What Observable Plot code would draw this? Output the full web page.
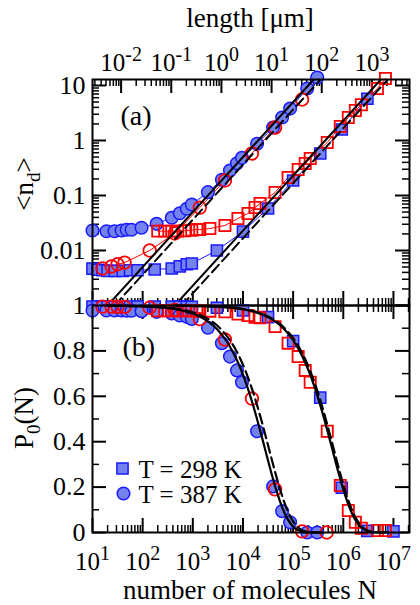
<!DOCTYPE html>
<html><head><meta charset="utf-8">
<script src="https://cdn.jsdelivr.net/npm/d3@7"></script>
<script src="https://cdn.jsdelivr.net/npm/@observablehq/plot@0.6"></script>
<style>
body{margin:0;background:#fff}
#chart{position:relative;width:420px;height:605px;background:#fff}
#chart svg{position:absolute;left:0;overflow:visible}
</style></head>
<body><div id="chart"></div>
<script>
// ---------------- data ----------------
// T = 387 K, filled blue circles
const nCirc387 = [10,19,27.5,38,48,60,95,190,380,550,759,955,2000,3800,5500,7590,9550,19100,39800,60300,87100,191000,302000];
const ndCirc387 = [0.0231,0.0224,0.0224,0.0231,0.0238,0.0238,0.0259,0.0305,0.0393,0.0476,0.0573,0.0685,0.115,0.193,0.285,0.386,0.484,0.871,1.72,2.62,3.80,8.81,14.0];
const p0Circ387 = [0.978,0.978,0.978,0.978,0.977,0.977,0.975,0.972,0.965,0.956,0.950,0.941,0.902,0.834,0.775,0.714,0.662,0.446,0.203,0.094,0.045,0.0,0.0];
// open red circles
const nCircRed = [15.8,24,31.6,43.6,138,436,1380,4370,15100,43600,151000];
const ndCircRed = [0.00471,0.00513,0.00562,0.00603,0.0100,0.0204,0.0603,0.1875,0.581,1.72,5.56];
const nCircRedP0 = [15.8,24,31.6,43.6,138,436,1380,4370,15100,43600,151000,468000];
const p0CircRed = [0.995,0.995,0.994,0.994,0.990,0.980,0.940,0.850,0.590,0.190,0.005,0.0];
// T = 298 K, filled blue squares
const nSq298 = [10,12.6,15.8,20,28,40,56,79,174,380,550,759,955,3020,10000,31600,100000,347000,933000,3020000];
const ndSq298 = [0.00468,0.00447,0.00437,0.00427,0.00427,0.00427,0.00437,0.00437,0.00452,0.00471,0.00513,0.00562,0.00581,0.0100,0.0221,0.0581,0.1875,0.581,1.585,5.75];
const nSq298P0 = [10,12.6,15.8,20,28,40,56,79,174,380,550,759,955,3020,10000,31600,100000,347000,933000,3020000,10000000];
const p0Sq298 = [0.995,0.995,0.995,0.995,0.995,0.995,0.995,0.995,0.995,0.995,0.995,0.994,0.994,0.990,0.978,0.949,0.843,0.594,0.197,0.007,0.005];
// open red squares
const nSqRed = [200,275,380,500,692,955,1200,1380,2190,4370,7940,12600,17400,21900,43600,79400,126000,174000,219000,479000,871000,1260000,1740000,2290000,4790000,6920000];
const ndSqRed = [0.0225,0.0225,0.0225,0.0225,0.0229,0.0234,0.024,0.024,0.0251,0.0285,0.0382,0.0471,0.0605,0.0716,0.1135,0.212,0.297,0.382,0.471,0.92,1.80,2.62,3.51,4.47,8.81,13.4];
const p0SqRed = [0.977,0.977,0.977,0.977,0.977,0.977,0.976,0.976,0.975,0.972,0.962,0.956,0.948,0.946,0.907,0.834,0.775,0.714,0.662,0.446,0.207,0.097,0.045,0.019,0.009,0.009];
// black reference lines, panel (a)
const lineNd = [0.001, 13];
const lineSolid387N = [20, 260000];
const lineDashed387N = [27.5, 357000];
const lineSolid298N = [436, 5670000];
const lineDashed298N = [600, 7800000];
// black curves, panel (b): log10 N and P0
const curveP0 = [0.9993,0.9931,0.9783,0.9572,0.933,0.896,0.8402,0.8032,0.7589,0.7066,0.6458,0.5767,0.5,0.418,0.3334,0.2509,0.1754,0.1118,0.0634,0.031,0.0126,0.0041,0.001,0.0];
const curveSolid387LogN = [1.28,2.28,2.78,3.08,3.28,3.48,3.68,3.78,3.88,3.98,4.08,4.18,4.28,4.38,4.48,4.58,4.68,4.78,4.88,4.98,5.08,5.18,5.28,5.58];
const curveDashed387LogN = [1.36,2.36,2.86,3.16,3.36,3.56,3.76,3.86,3.96,4.06,4.16,4.26,4.36,4.46,4.56,4.66,4.76,4.86,4.96,5.06,5.16,5.26,5.36,5.66];
const curveSolid298LogN = [2.62,3.62,4.12,4.42,4.62,4.82,5.02,5.12,5.22,5.32,5.42,5.52,5.62,5.72,5.82,5.92,6.02,6.12,6.22,6.32,6.42,6.52,6.62,6.92];
const curveDashed298LogN = [2.65,3.65,4.15,4.45,4.65,4.85,5.05,5.15,5.25,5.35,5.45,5.55,5.65,5.75,5.85,5.95,6.05,6.15,6.25,6.35,6.45,6.55,6.65,6.95];
// axes
const xMajorTicks = [1e1,1e2,1e3,1e4,1e5,1e6,1e7];
const xTickLabels = ["10^1","10^2","10^3","10^4","10^5","10^6","10^7"];
const lengthPerMolecule = 2.69e-4; // µm per molecule (top axis)
const lenMajorTicks = [1e-3,1e-2,1e-1,1e0,1e1,1e2,1e3];
const lenLabelValues = [1e-2,1e-1,1e0,1e1,1e2,1e3];
const lenTickLabels = ["10^-2","10^-1","10^0","10^1","10^2","10^3"];
const ndMajorTicks = [0.001,0.01,0.1,1,10];
const ndLabelValues = [10,1,0.1,0.01];
const ndTickLabels = ["10","1","0.1","0.01"];
const p0MajorTicks = [0,0.2,0.4,0.6,0.8,1];
const p0MinorTicks = [0.1,0.3,0.5,0.7,0.9];
const p0TickLabels = ["0","0.2","0.4","0.6","0.8","1"];
const legendLabels = ["T = 298 K","T = 387 K"];

// ---------------- layout & style ----------------
const font = "Liberation Serif";
const blue = "#1a1aff", blueFill = "#7482ee", red = "#ff0000";
const xDomain = [10, 2.09e7];
const mL = 92, mR = 11, W = 420;
const frameW = W - mL - mR;
const hA = 305, mTopA = 79, frameHA = hA - mTopA;
const hB = 300, mBotB = 73, frameHB = hB - mBotB;
const R = 6.3;

const minorsOf = (majors, lo, hi) => majors.flatMap(p => [2,3,4,5,6,7,8,9].map(m => +(m*p).toPrecision(3))).filter(v => v > lo && v < hi);
const xMinor = minorsOf(xMajorTicks, xDomain[0], xDomain[1]);
const lenLo = xDomain[0]*lengthPerMolecule, lenHi = xDomain[1]*lengthPerMolecule;
const lenMajorN = lenMajorTicks.filter(v => v > lenLo && v < lenHi).map(v => v/lengthPerMolecule);
const lenMinorN = minorsOf(lenMajorTicks, lenLo, lenHi).map(v => v/lengthPerMolecule);
const ndDomain = [0.001, 12.85];
const ndMinor = minorsOf(ndMajorTicks, ndDomain[0], ndDomain[1]);

const pts = (xs, ys) => xs.map((x, i) => ({x, y: ys[i]})).filter(d => d.y != null);
const curve = (logs) => logs.map((e, i) => ({x: Math.pow(10, e), y: curveP0[i]}));

function xTicks(where, fh) {
  const key = where === "bottom" ? "insetTop" : "insetBottom";
  return [
    Plot.ruleX(xMajorTicks, {x: d => d, [key]: fh - 14, stroke: "black", strokeWidth: 2}),
    Plot.ruleX(xMinor, {x: d => d, [key]: fh - 7, stroke: "black", strokeWidth: 1.5})
  ];
}
function yTicks(majors, minors) {
  return ["left","right"].flatMap(side => {
    const key = side === "left" ? "insetRight" : "insetLeft";
    return [
      Plot.ruleY(majors, {y: d => d, [key]: frameW - 14, stroke: "black", strokeWidth: 2}),
      Plot.ruleY(minors, {y: d => d, [key]: frameW - 7, stroke: "black", strokeWidth: 1.5})
    ];
  });
}
const blueDot = (data, symbol) => Plot.dot(data, {x: "x", y: "y", r: R, symbol, fill: blueFill, stroke: blue, strokeWidth: 1.5});
const redDot = (data, symbol) => Plot.dot(data, {x: "x", y: "y", r: R, symbol, fill: "none", stroke: red, strokeWidth: 1.8});
const T = (data, opts) => Plot.text(data, {fontFamily: font, fill: "black", ...opts});

// ---------------- panel (a) ----------------
const aCirc387 = pts(nCirc387, ndCirc387), aCircRed = pts(nCircRed, ndCircRed);
const aSq298 = pts(nSq298, ndSq298), aSqRed = pts(nSqRed, ndSqRed);
const pa = Plot.plot({
  width: W, height: hA, marginLeft: mL, marginRight: mR, marginTop: mTopA, marginBottom: 0,
  x: {type: "log", domain: xDomain, axis: null},
  y: {type: "log", domain: ndDomain, axis: null},
  style: {fontFamily: font, fontSize: "26px", background: "transparent", overflow: "visible"},
  marks: [
    ...xTicks("bottom", frameHA),
    Plot.ruleX(lenMajorN, {x: d => d, insetBottom: frameHA - 14, stroke: "black", strokeWidth: 2}),
    Plot.ruleX(lenMinorN, {x: d => d, insetBottom: frameHA - 7, stroke: "black", strokeWidth: 1.5}),
    ...yTicks(ndMajorTicks, ndMinor),
    Plot.line(aSq298, {x: "x", y: "y", stroke: blue, strokeWidth: 1}),
    Plot.line(aCirc387, {x: "x", y: "y", stroke: blue, strokeWidth: 1}),
    Plot.line(aSqRed, {x: "x", y: "y", stroke: red, strokeWidth: 1}),
    Plot.line(aCircRed, {x: "x", y: "y", stroke: red, strokeWidth: 1}),
    blueDot(aSq298, "square"),
    blueDot(aCirc387, "circle"),
    redDot(aSqRed, "square"),
    redDot(aCircRed, "circle"),
    Plot.line(pts(lineSolid387N, lineNd), {x: "x", y: "y", stroke: "black", strokeWidth: 2, clip: true}),
    Plot.line(pts(lineDashed387N, lineNd), {x: "x", y: "y", stroke: "black", strokeWidth: 2, strokeDasharray: "10,5", clip: true}),
    Plot.line(pts(lineSolid298N, lineNd), {x: "x", y: "y", stroke: "black", strokeWidth: 2, clip: true}),
    Plot.line(pts(lineDashed298N, lineNd), {x: "x", y: "y", stroke: "black", strokeWidth: 2, strokeDasharray: "10,5", clip: true}),
    Plot.frame({stroke: "black", strokeWidth: 2}),
    T(lenLabelValues, {x: d => d/lengthPerMolecule, frameAnchor: "top", lineAnchor: "bottom", dy: -9, text: (d, i) => lenTickLabels[i], fontSize: 25}),
    T(ndLabelValues, {y: d => d, frameAnchor: "left", textAnchor: "end", dx: -7, text: (d, i) => ndTickLabels[i], fontSize: 26}),
    T(["(a)"], {frameAnchor: "top-left", dx: 28, dy: 45, lineAnchor: "bottom", textAnchor: "start", text: d => d, fontSize: 28})
  ]
});

// ---------------- panel (b) ----------------
const pb = Plot.plot({
  width: W, height: hB, marginLeft: mL, marginRight: mR, marginTop: 0, marginBottom: mBotB,
  x: {type: "log", domain: xDomain, axis: null},
  y: {type: "linear", domain: [0, 1], axis: null},
  style: {fontFamily: font, fontSize: "26px", background: "transparent", overflow: "visible"},
  marks: [
    ...xTicks("bottom", frameHB),
    ...xTicks("top", frameHB),
    ...yTicks(p0MajorTicks, p0MinorTicks),
    blueDot(pts(nSq298P0, p0Sq298), "square"),
    blueDot(pts(nCirc387, p0Circ387), "circle"),
    redDot(pts(nSqRed, p0SqRed), "square"),
    redDot(pts(nCircRedP0, p0CircRed), "circle"),
    Plot.line(curve(curveSolid387LogN), {x: "x", y: "y", stroke: "black", strokeWidth: 2.2, curve: "monotone-x"}),
    Plot.line(curve(curveDashed387LogN), {x: "x", y: "y", stroke: "black", strokeWidth: 2.2, strokeDasharray: "10,5", curve: "monotone-x"}),
    Plot.line(curve(curveSolid298LogN), {x: "x", y: "y", stroke: "black", strokeWidth: 2.2, curve: "monotone-x"}),
    Plot.line(curve(curveDashed298LogN), {x: "x", y: "y", stroke: "black", strokeWidth: 2.2, strokeDasharray: "10,5", curve: "monotone-x"}),
    Plot.frame({stroke: "black", strokeWidth: 2}),
    T(xMajorTicks, {x: d => d, frameAnchor: "bottom", lineAnchor: "bottom", dy: 37, text: (d, i) => xTickLabels[i], fontSize: 25}),
    T(p0MajorTicks, {y: d => d, frameAnchor: "left", textAnchor: "end", dx: -7, text: (d, i) => p0TickLabels[i], fontSize: 26}),
    T(["(b)"], {frameAnchor: "top-left", dx: 30, dy: 50, lineAnchor: "bottom", textAnchor: "start", text: d => d, fontSize: 28}),
    // legend
    Plot.dot([0], {frameAnchor: "top-left", dx: 30, dy: 163, r: R, symbol: "square", fill: blueFill, stroke: blue, strokeWidth: 1.5}),
    Plot.dot([0], {frameAnchor: "top-left", dx: 31, dy: 188, r: R, symbol: "circle", fill: blueFill, stroke: blue, strokeWidth: 1.5}),
    T([legendLabels[0]], {frameAnchor: "top-left", dx: 46, dy: 172, lineAnchor: "bottom", textAnchor: "start", text: d => d, fontSize: 25}),
    T([legendLabels[1]], {frameAnchor: "top-left", dx: 46, dy: 197, lineAnchor: "bottom", textAnchor: "start", text: d => d, fontSize: 25})
  ]
});

// superscripts in "10^k" labels
function supify(svg) {
  d3.select(svg).selectAll("text").each(function () {
    const m = /^10\^(-?\d+)$/.exec(this.textContent.trim());
    if (m) {
      const s = d3.select(this);
      s.text("10");
      s.append("tspan").attr("dy", -9.5).attr("font-size", "20px").text(m[1]);
    }
  });
}
supify(pa); supify(pb);

// axis titles
function title(svg, x, y, parts, rotate) {
  const t = d3.select(svg).append("text")
    .attr("transform", `translate(${x},${y})` + (rotate ? ` rotate(${rotate})` : ""))
    .attr("text-anchor", "middle").attr("font-family", font)
    .attr("font-size", "27px").attr("fill", "black");
  let shift = 0;
  for (const p of parts) {
    const sp = t.append("tspan").text(p.t);
    const want = p.sub ? 7 : 0;
    if (want !== shift) { sp.attr("dy", want - shift); shift = want; }
    if (p.sub) sp.attr("font-size", "19px");
  }
}
title(pa, 250, 27, [{t: "length [μm]"}]);
title(pa, 33, 184, [{t: "<n"}, {t: "d", sub: true}, {t: ">"}], -90);
title(pb, 33, 113, [{t: "P"}, {t: "0", sub: true}, {t: "(N)"}], -90);
title(pb, 250, 294, [{t: "number of molecules N"}]);

pa.style.top = "0px";
pb.style.top = "305px";
const root = document.getElementById("chart");
root.appendChild(pa);
root.appendChild(pb);
</script>
</body></html>
